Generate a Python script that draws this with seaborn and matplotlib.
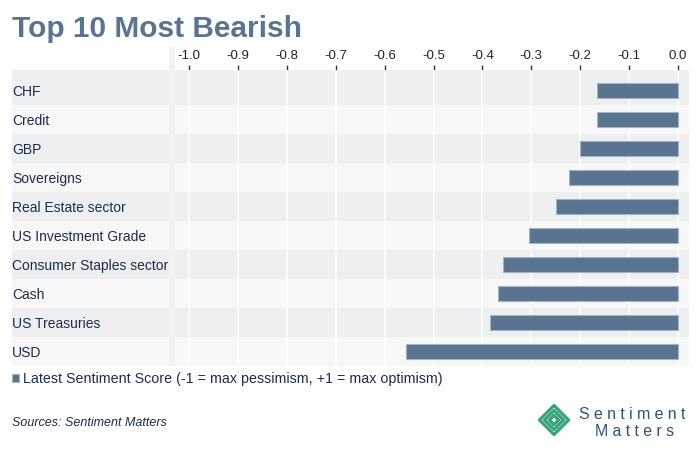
import numpy as np
import pandas as pd
import matplotlib
matplotlib.use("Agg")
import matplotlib.pyplot as plt
from matplotlib.patches import Rectangle, Polygon
import seaborn as sns

sns.set_style("white")
plt.rcParams['font.family'] = ['Liberation Sans', 'DejaVu Sans']
plt.rcParams['axes.unicode_minus'] = False

# data
categories = ['CHF', 'Credit', 'GBP', 'Sovereigns', 'Real Estate sector',
              'US Investment Grade', 'Consumer Staples sector', 'Cash',
              'US Treasuries', 'USD']
scores = [-0.166, -0.166, -0.200, -0.222, -0.250, -0.305, -0.357, -0.368,
          -0.384, -0.556]
ticks = [-1.0, -0.9, -0.8, -0.7, -0.6, -0.5, -0.4, -0.3, -0.2, -0.1, 0.0]
legend_label = 'Latest Sentiment Score (-1 = max pessimism, +1 = max optimism)'

df = pd.DataFrame({'category': categories, 'score': scores})

W, H = 700, 449
BAR = '#587491'
TXT = '#1d2c4c'
DARK_ROW = '#eeeff1'
LIGHT_ROW = '#f7f7f7'

fig = plt.figure(figsize=(W / 100, H / 100), dpi=100)
fig.patch.set_facecolor('white')

# axes in pixel terms: x 175..689, y 70..366
ax_l, ax_r, ax_t, ax_b = 175, 689, 70, 366
ax = fig.add_axes([ax_l / W, 1 - ax_b / H, (ax_r - ax_l) / W, (ax_b - ax_t) / H])

sns.barplot(data=df, x='score', y='category', orient='h', color=BAR,
            width=0.5, edgecolor='#a3b3c3', linewidth=0.8, saturation=1,
            label=legend_label, ax=ax, zorder=3)

ax.set_facecolor('none')
px_per_unit = 489
ax.set_xlim(-1.0 - (189 - ax_l) / px_per_unit, (ax_r - 678) / px_per_unit)
ax.set_ylim(len(categories) - 0.5, -0.7)

# alternating row bands, reaching left under the labels
left_frac = (12 - ax_l) / (ax_r - ax_l)
for i in range(len(categories)):
    lo = -0.7 if i == 0 else i - 0.5
    ax.axhspan(lo, i + 0.5, xmin=left_frac, xmax=1,
               color=DARK_ROW if i % 2 == 0 else LIGHT_ROW,
               lw=0, zorder=0, clip_on=False)

for t in ticks:
    ax.axvline(t, color='white', lw=1.1, zorder=1)

# light divider strip between labels and plot
fig.patches.append(Rectangle((169 / W, 1 - 366 / H), 6 / W, (366 - 47) / H,
                             transform=fig.transFigure, color='#f1f1f1',
                             lw=0, zorder=0.5))

ax.xaxis.tick_top()
ax.set_xticks(ticks)
ax.set_xticklabels([f'{t:.1f}' for t in ticks])
ax.tick_params(axis='x', length=3.5, width=1, color='#333333', pad=2,
               labelsize=9.5, labelcolor='#222222')
ax.tick_params(axis='y', length=0, pad=(ax_l - 12) * 0.72,
               labelsize=10, labelcolor=TXT)
for lab in ax.get_yticklabels():
    lab.set_horizontalalignment('left')
ax.set_xlabel('')
ax.set_ylabel('')
sns.despine(ax=ax, left=True, bottom=True, top=True, right=True)

leg = ax.legend(loc='upper left', bbox_to_anchor=(12 / W, 1 - 372 / H),
                bbox_transform=fig.transFigure, frameon=False,
                handlelength=0.5, handleheight=0.5, handletextpad=0.3,
                borderpad=0, borderaxespad=0, fontsize=10.3)
for t in leg.get_texts():
    t.set_color(TXT)

fig.text(12 / W, 1 - 37 / H, 'Top 10 Most Bearish', fontsize=21.5,
         fontweight='bold', color=BAR, va='baseline', ha='left')
fig.text(12 / W, 1 - 423 / H, 'Sources: Sentiment Matters', fontsize=9,
         style='italic', color=TXT, va='center', ha='left')

# logo
lax = fig.add_axes([536 / W, 1 - 438 / H, 36 / W, 36 / H])
lax.set_xlim(-18, 18)
lax.set_ylim(-18, 18)
lax.axis('off')
for r in [14.5, 9.5, 4.6]:
    lax.add_patch(Polygon([(0, r), (r, 0), (0, -r), (-r, 0)], closed=True,
                          fill=False, ec='#3aa57c', lw=2.4, joinstyle='round'))
fig.text(579 / W, 1 - 419 / H, 'S e n t i m e n t', fontsize=11.4,
         color='#2d5577', va='baseline', ha='left')
fig.text(595 / W, 1 - 436 / H, 'M a t t e r s', fontsize=11.4,
         color='#2d5577', va='baseline', ha='left')

fig.savefig('out.png', dpi=100, facecolor='white')
